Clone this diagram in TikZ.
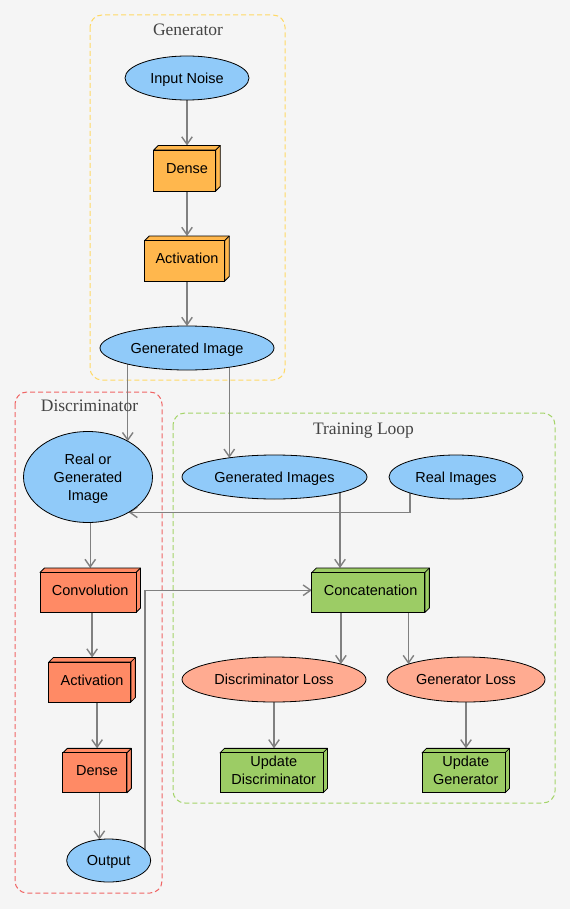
\documentclass[tikz,border=0pt]{standalone}
\usepackage{fontspec}
\newfontfamily\nodefont{Liberation Sans}
\newfontfamily\titlefont{Liberation Serif}
\usetikzlibrary{shapes.geometric,arrows.meta,calc}
\definecolor{bgc}{HTML}{F5F5F5}
\definecolor{blueF}{HTML}{90CAF9}
\definecolor{orangeF}{HTML}{FFB74D}
\definecolor{redF}{HTML}{FF8A65}
\definecolor{salmonF}{HTML}{FFAB91}
\definecolor{greenF}{HTML}{9CCC65}
\definecolor{arrgray}{HTML}{808080}
\definecolor{titlegray}{HTML}{444444}
\definecolor{genC}{HTML}{FFD966}
\definecolor{disC}{HTML}{F06666}
\definecolor{trnC}{HTML}{A5D46A}
\pgfdeclarelayer{bglayer}
\pgfdeclarelayer{edgelayer}
\pgfdeclarelayer{boxlayer}
\pgfsetlayers{bglayer,edgelayer,boxlayer,main}
% faces of a 3D box whose full outline is the node #1
\newcommand\cubefaces[2]{%
  \begin{pgfonlayer}{boxlayer}
  \draw[line width=0.8pt, fill=#2, line join=round]
    ([yshift=-4.5pt]#1.north west) -- ([xshift=4.5pt]#1.north west) -- (#1.north east)
    -- ([yshift=4.5pt]#1.south east) -- ([xshift=-4.5pt]#1.south east)
    -- ([shift={(-4.5pt,-4.5pt)}]#1.north east) -- cycle;
  \draw[line width=0.8pt, fill=#2]
    (#1.south west) rectangle ([shift={(-4.5pt,-4.5pt)}]#1.north east);
  \draw[line width=0.8pt] ([shift={(-4.5pt,-4.5pt)}]#1.north east) -- (#1.north east);
  \end{pgfonlayer}}
\begin{document}
\begin{tikzpicture}[x=1pt,y=-1pt,
  ell/.style={ellipse, draw=black, line width=0.8pt, fill=#1, inner sep=0pt, outer sep=0pt,
    font=\nodefont\fontsize{14.5}{18}\selectfont, align=center, text depth=0pt},
  cube/.style={rectangle, inner sep=0pt, outer sep=0pt,
    font=\nodefont\fontsize{14.5}{18}\selectfont, align=center, text depth=0pt},
  arr/.style={draw=arrgray, line width=1.4pt, -{Straight Barb[length=7.5pt,width=10.5pt]}},
  cluster/.style={draw=#1, line width=1pt, dash pattern=on 5pt off 3pt, rounded corners=12pt},
  ctitle/.style={font=\titlefont\fontsize{17.5}{20}\selectfont, text=titlegray, inner sep=0pt,
    text depth=0pt, text height=11.8pt}
]
\useasboundingbox (0,0) rectangle (570,909);
\begin{pgfonlayer}{bglayer}
  \fill[bgc] (0,0) rectangle (570,909);
  \draw[cluster=genC] (90,15) rectangle (285,380);
  \draw[cluster=disC] (15,392) rectangle (162,893);
  \draw[cluster=trnC] (173,413) rectangle (555,803);
\end{pgfonlayer}
\node[ctitle] (tgen) at (188,29.2) {Generator};
\node[ctitle] (tdis) at (89.5,405.5) {Discriminator};
\node[ctitle] (ttrn) at (363.5,428.5) {Training Loop};

% Generator
\node[ell=blueF, minimum width=124, minimum height=44] (noise) at (187,78) {Input Noise};
\node[cube, minimum width=66.5, minimum height=45.5] (gdense) at (187,168.25) {Dense};
\node[cube, minimum width=84.5, minimum height=45] (gact) at (187,258.5) {Activation};
\node[ell=blueF, minimum width=174, minimum height=44] (genimg) at (187,348) {Generated Image};

% Discriminator
\node[ell=blueF, minimum width=129, minimum height=91] (rog) at (88,477) {Real or\\Generated\\Image};
\node[cube, minimum width=100.5, minimum height=44.5] (cconv) at (90.25,590.25) {Convolution};
\node[cube, minimum width=86.5, minimum height=44.5] (dact) at (92.1,679.75) {Activation};
\node[cube, minimum width=68.5, minimum height=44.5] (ddense) at (97.1,770.6) {Dense};
\node[ell=blueF, minimum width=84, minimum height=43] (output) at (108.7,860.5) {Output};

% Training loop
\node[ell=blueF, minimum width=185, minimum height=44] (genimgs) at (274.5,477) {Generated Images};
\node[ell=blueF, minimum width=134, minimum height=44] (realimgs) at (456,477) {Real Images};
\node[cube, minimum width=117.5, minimum height=44.5] (concat) at (370.6,590.25) {Concatenation};
\node[ell=salmonF, minimum width=184, minimum height=45] (dloss) at (274,679.5) {Discriminator Loss};
\node[ell=salmonF, minimum width=158, minimum height=45] (gloss) at (466,679.5) {Generator Loss};
\node[cube, minimum width=107.5, minimum height=44.5] (updd) at (273.75,770.6) {Update\\Discriminator};
\node[cube, minimum width=87.5, minimum height=44.5] (updg) at (465.75,770.6) {Update\\Generator};

\cubefaces{gdense}{orangeF}
\cubefaces{gact}{orangeF}
\cubefaces{cconv}{redF}
\cubefaces{dact}{redF}
\cubefaces{ddense}{redF}
\cubefaces{concat}{greenF}
\cubefaces{updd}{greenF}
\cubefaces{updg}{greenF}

\begin{pgfonlayer}{edgelayer}
  % generator chain
  \draw[arr] (noise) -- (noise |- gdense.north);
  \draw[arr] (noise |- gdense.center) -- (noise |- gact.north);
  \draw[arr] (noise |- gact.center) -- (genimg);
  % generator to others
  \draw[arr] (rog.42.86 |- genimg.center) -- (rog.42.86);
  \draw[arr] (genimgs.157.17 |- genimg.center) -- (genimgs.157.17);
  % real images to discriminator input
  \draw[arr] ([xshift=-46pt]realimgs.center) |- (rog.319.65);
  % discriminator chain
  \draw[arr] (cconv |- rog.center) -- (cconv.north);
  \draw[arr] (dact |- cconv.center) -- (dact.north);
  \draw[arr] (ddense |- dact.center) -- (ddense.north);
  \draw[arr] (output.114.16 |- ddense.center) -- (output.114.16);
  % training loop
  \draw[arr] ([xshift=65.5pt]genimgs.center) -- ([xshift=65.5pt]genimgs.center |- concat.north);
  \draw[arr] ([xshift=36.3pt]output.center) |- (concat.west);
  \draw[arr] (dloss.13.56 |- concat.center) -- (dloss.13.56);
  \draw[arr] (gloss.165.4 |- concat.center) -- (gloss.165.4);
  \draw[arr] (dloss) -- (dloss |- updd.north);
  \draw[arr] (gloss) -- (gloss |- updg.north);
\end{pgfonlayer}
\end{tikzpicture}
\end{document}
